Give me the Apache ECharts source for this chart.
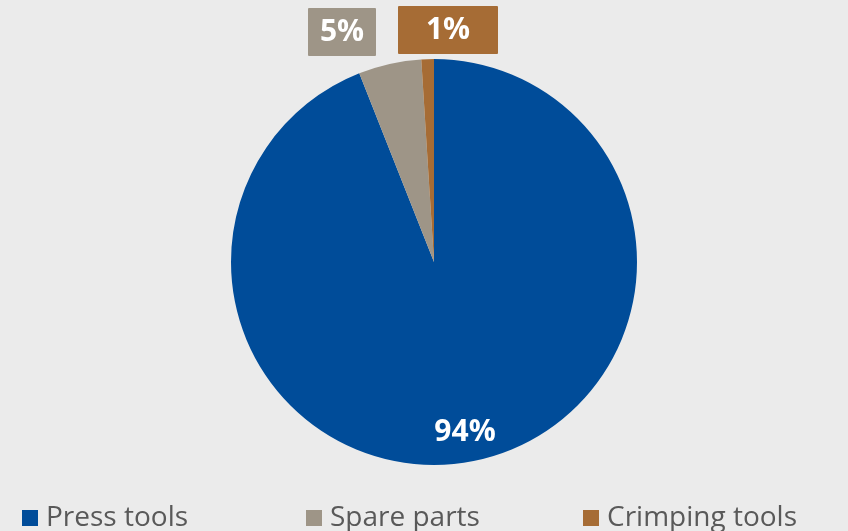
<!DOCTYPE html>
<html>
<head>
<meta charset="utf-8">
<script src="https://cdn.jsdelivr.net/npm/echarts@6/dist/echarts.min.js"></script>
<style>
  html, body { margin: 0; padding: 0; background: #ebebeb; }
  #chart { width: 848px; height: 531px; }
</style>
</head>
<body>
<div id="chart"></div>
<script>
// Product groups and their share of sales (percent)
const categories = ['Press tools', 'Spare parts', 'Crimping tools'];
const shares = [94, 5, 1];
const colors = ['#004c99', '#9e9587', '#a66c35'];

// Where each percentage label sits, and the box drawn behind it
const labelSpots = [
  { x: 465, y: 432 },
  { x: 342, y: 32 },
  { x: 448, y: 30 }
];
const labelBoxes = [
  { width: 80, height: 40, bg: 'transparent' },
  { width: 68, height: 48, bg: colors[1] },
  { width: 100, height: 48, bg: colors[2] }
];

const legendLefts = [22, 306, 583];

const chart = echarts.init(document.getElementById('chart'));

const data = categories.map((name, i) => ({
  name,
  value: shares[i],
  itemStyle: { color: colors[i] },
  label: {
    width: labelBoxes[i].width,
    height: labelBoxes[i].height,
    lineHeight: labelBoxes[i].height,
    backgroundColor: labelBoxes[i].bg,
    borderRadius: 1
  }
}));

chart.setOption({
  backgroundColor: '#ebebeb',
  animation: false,
  legend: categories.map((name, i) => ({
    data: [name],
    left: legendLefts[i],
    top: 504,
    itemWidth: 16,
    itemHeight: 16,
    itemGap: 0,
    icon: 'rect',
    padding: 0,
    textStyle: {
      fontFamily: 'Open Sans',
      fontSize: 28,
      color: '#595959',
      padding: [0, 0, 0, 3]
    }
  })),
  series: [{
    type: 'pie',
    center: ['434px', '262px'],
    radius: [0, 203],
    startAngle: 90,
    clockwise: true,
    data,
    label: {
      show: true,
      position: 'inside',
      formatter: p => p.value + '%',
      color: '#ffffff',
      fontFamily: 'Open Sans',
      fontWeight: 'bold',
      fontSize: 30,
      align: 'center',
      verticalAlign: 'middle'
    },
    labelLine: { show: false },
    labelLayout: params => ({
      x: labelSpots[params.dataIndex].x,
      y: labelSpots[params.dataIndex].y,
      align: 'center',
      verticalAlign: 'middle'
    }),
    emphasis: { disabled: true }
  }]
});
</script>
</body>
</html>
